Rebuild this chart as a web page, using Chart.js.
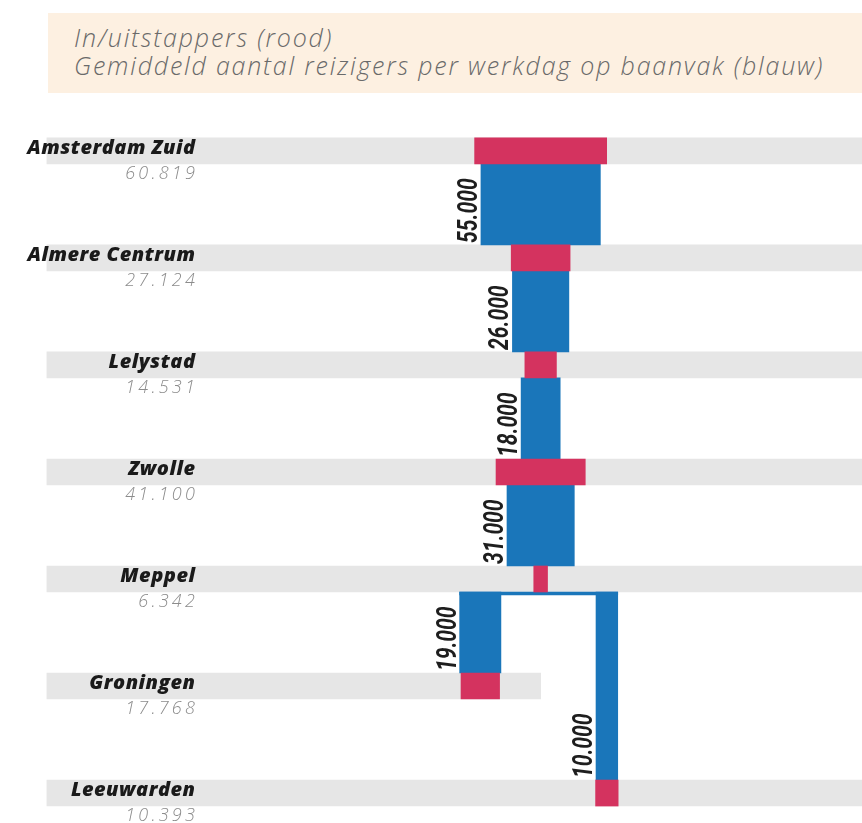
<!DOCTYPE html>
<html>
<head>
<meta charset="utf-8">
<title>Reizigers Amsterdam Zuid - Groningen / Leeuwarden</title>
<script src="https://cdn.jsdelivr.net/npm/chart.js@4.4.1/dist/chart.umd.min.js"></script>
<style>
  body { margin: 0; background: #fff; }
  #kop {
    position: absolute; left: 48px; top: 13px; width: 814px; height: 80px;
    box-sizing: border-box; padding: 10px 0 0 26px;
    background: #fdf0e1; color: #6a6a6a;
    font: italic 300 25px/28px "Open Sans", sans-serif; letter-spacing: 1.8px;
    white-space: nowrap; z-index: 2;
  }
  #wrap { position: absolute; left: 0; top: 0; width: 862px; height: 823px; }
</style>
</head>
<body>
<div id="kop">In/uitstappers (rood)<br>Gemiddeld aantal reizigers per werkdag op baanvak (blauw)</div>
<div id="wrap"><canvas id="grafiek" width="862" height="823"></canvas></div>
<script>
// stations langs de lijn, van boven naar beneden
const stations = ['Amsterdam Zuid', 'Almere Centrum', 'Lelystad', 'Zwolle', 'Meppel', 'Groningen', 'Leeuwarden']
const inUitstappers = [60819, 27124, 14531, 41100, 6342, 17768, 10393]
const stationTak = ['hoofd', 'hoofd', 'hoofd', 'hoofd', 'hoofd', 'west', 'oost']

// baanvakken: van station -> naar station (index in stations)
const baanvakVan = [0, 1, 2, 3, 4, 4]
const baanvakNaar = [1, 2, 3, 4, 5, 6]
const reizigers = [55000, 26000, 18000, 31000, 19000, 10000]

// schaal en opmaak
const X_MAX = 397            // duizenden reizigers over de hele breedte
const MIDDEN = 249           // hartlijn van de hoofdlijn
const TAK_X = { hoofd: 0, west: -27.8, oost: 30.5 }
const BAND_START = 21.6
const Y_MIN = -1.41
const Y_MAX = 6.28
const HOOGTE = 823
const BAND_PX = 26
const rijPx = HOOGTE / (Y_MAX - Y_MIN)

const ROOD = '#d4335f'
const BLAUW = '#1a76ba'

function duizendtal(n) {
  return String(n).replace(/\B(?=(\d{3})+(?!\d))/g, '.')
}

function breedte(centrum, aantal) {
  const w = aantal / 1000
  return [centrum - w / 2, centrum + w / 2]
}

// grijze banden achter de stations
const banden = stations.map((s, i) => ({
  x: [BAND_START, stationTak[i] === 'west' ? MIDDEN : X_MAX],
  y: i
}))

// rode blokken: in/uitstappers per station
const stationBlokken = stations.map((s, i) => ({
  x: breedte(MIDDEN + TAK_X[stationTak[i]], inUitstappers[i]),
  y: i
}))

// blauwe blokken, gegroepeerd per aantal rijen dat ze overbruggen
const baanvakSets = {}
reizigers.forEach((r, i) => {
  const span = baanvakNaar[i] - baanvakVan[i]
  if (!baanvakSets[span]) baanvakSets[span] = { data: [], teksten: [] }
  const tak = stationTak[baanvakNaar[i]]
  baanvakSets[span].data.push({
    x: breedte(MIDDEN + TAK_X[tak], r),
    y: (baanvakVan[i] + baanvakNaar[i]) / 2
  })
  baanvakSets[span].teksten.push(duizendtal(r))
})

// dunne verbinding onder Meppel naar beide takken
const splitsing = baanvakVan.indexOf(4)
let links = Infinity, rechts = -Infinity
reizigers.forEach((r, i) => {
  if (baanvakVan[i] !== 4) return
  const b = breedte(MIDDEN + TAK_X[stationTak[baanvakNaar[i]]], r)
  links = Math.min(links, b[0])
  rechts = Math.max(rechts, b[1])
})
const verbinding = [{ x: [links, rechts], y: baanvakVan[splitsing] + (BAND_PX / 2 + 1.5) / rijPx }]

const datasets = [
  { label: 'band', data: banden, backgroundColor: '#e6e6e6', barThickness: BAND_PX, grouped: false, order: 5 },
  { label: 'verbinding', data: verbinding, backgroundColor: BLAUW, barThickness: 3, grouped: false, order: 3 },
  { label: 'In/uitstappers', data: stationBlokken, backgroundColor: ROOD, barThickness: BAND_PX, grouped: false, order: 1 }
]
Object.keys(baanvakSets).forEach(span => {
  datasets.push({
    label: 'Reizigers',
    soort: 'baanvak',
    teksten: baanvakSets[span].teksten,
    data: baanvakSets[span].data,
    backgroundColor: BLAUW,
    barThickness: rijPx * span - BAND_PX,
    grouped: false,
    order: 2
  })
})

// namen en aantallen links van de banden
const stationLabels = {
  id: 'stationLabels',
  afterDatasetsDraw(chart) {
    const ctx = chart.ctx
    const y = chart.scales.y
    ctx.save()
    ctx.textAlign = 'right'
    ctx.textBaseline = 'alphabetic'
    stations.forEach((naam, i) => {
      const py = y.getPixelForValue(i)
      ctx.font = 'italic 800 20px "Open Sans"'
      ctx.fillStyle = '#1a1a1a'
      ctx.letterSpacing = '0.5px'
      ctx.fillText(naam, 195.5, py + 3)
      ctx.font = 'italic 300 18px "Open Sans"'
      ctx.fillStyle = '#8c8c8c'
      ctx.letterSpacing = '3.2px'
      ctx.fillText(duizendtal(inUitstappers[i]), 198, py + 28)
    })
    ctx.restore()
  }
}

// gedraaide aantallen naast de blauwe blokken (smal gezet)
const baanvakLabels = {
  id: 'baanvakLabels',
  afterDatasetsDraw(chart) {
    const ctx = chart.ctx
    ctx.save()
    ctx.font = 'italic bold 27px Roboto'
    ctx.fillStyle = '#1e1e1e'
    ctx.textAlign = 'left'
    ctx.textBaseline = 'alphabetic'
    chart.data.datasets.forEach((ds, di) => {
      if (ds.soort !== 'baanvak') return
      chart.getDatasetMeta(di).data.forEach((el, j) => {
        const p = el.getProps(['x', 'base', 'y', 'height'], true)
        const links = Math.min(p.x, p.base)
        const onder = p.y + p.height / 2
        ctx.save()
        ctx.translate(links - 4, onder - 2)
        ctx.rotate(-Math.PI / 2)
        ctx.scale(0.78, 1)
        ctx.fillText(ds.teksten[j], 0, 0)
        ctx.restore()
      })
    })
    ctx.restore()
  }
}

new Chart(document.getElementById('grafiek'), {
  type: 'bar',
  data: { datasets: datasets },
  options: {
    indexAxis: 'y',
    responsive: false,
    animation: false,
    devicePixelRatio: 1,
    layout: { padding: 0 },
    scales: {
      x: { type: 'linear', min: 0, max: X_MAX, display: false },
      y: { type: 'linear', min: Y_MIN, max: Y_MAX, reverse: true, offset: false, display: false }
    },
    plugins: {
      legend: { display: false },
      tooltip: { enabled: false }
    }
  },
  plugins: [stationLabels, baanvakLabels]
})
</script>
</body>
</html>
